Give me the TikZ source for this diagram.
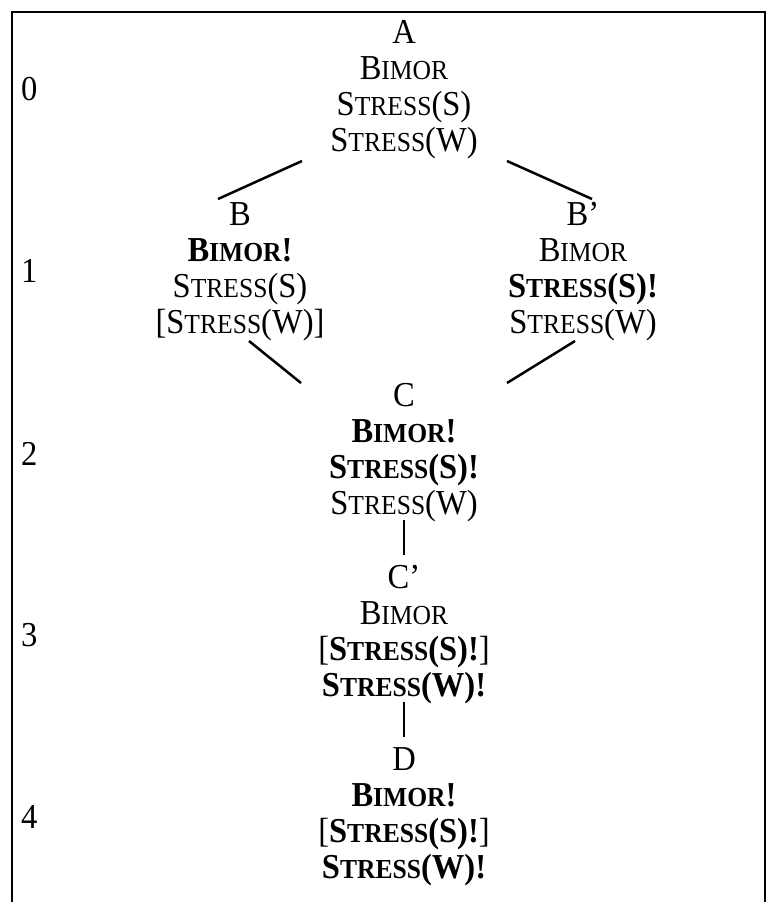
\documentclass[tikz,border=0pt]{standalone}
\usepackage{fontspec}
\setmainfont{Liberation Serif}
\newcommand\scx[2]{#1{\fontsize{27.5}{36}\selectfont #2}}
\begin{document}
\begin{tikzpicture}[x=1pt,y=-1pt,
  stack/.style={align=center,anchor=north,inner sep=0pt,transform shape,xscale=0.93,font=\fontsize{35}{36}\selectfont},
  rowlab/.style={anchor=base west,inner sep=0pt,transform shape,xscale=0.93,font=\fontsize{35}{36}\selectfont},
  edge/.style={line width=2.5pt},
  frame/.style={line width=2.4pt}]
\useasboundingbox (0,0) rectangle (767,902);
\draw[frame] (12,902) -- (12,12) -- (765,12) -- (765,902);
% row labels
\node[rowlab] (r0) at (21,100) {0};
\node[rowlab] (r1) at (21,282) {1};
\node[rowlab] (r2) at (21,465) {2};
\node[rowlab] (r3) at (21,646) {3};
\node[rowlab] (r4) at (21,828) {4};
% stacks
\node[stack] (A) at (404,20) {A\\ \scx{B}{IMOR}\\ \scx{S}{TRESS}(S)\\ \scx{S}{TRESS}(W)};
\node[stack] (B) at (240,202) {B\\ \textbf{\scx{B}{IMOR}!}\\ \scx{S}{TRESS}(S)\\ {[}\scx{S}{TRESS}(W)]};
\node[stack] (Bp) at (583,202) {B’\\ \scx{B}{IMOR}\\ \textbf{\scx{S}{TRESS}(S)!}\\ \scx{S}{TRESS}(W)};
\node[stack] (C) at (404,383) {C\\ \textbf{\scx{B}{IMOR}!}\\ \textbf{\scx{S}{TRESS}(S)!}\\ \scx{S}{TRESS}(W)};
\node[stack] (Cp) at (404,565) {C’\\ \scx{B}{IMOR}\\ {[}\textbf{\scx{S}{TRESS}(S)!}]\\ \textbf{\scx{S}{TRESS}(W)!}};
\node[stack] (D) at (404,747) {D\\ \textbf{\scx{B}{IMOR}!}\\ {[}\textbf{\scx{S}{TRESS}(S)!}]\\ \textbf{\scx{S}{TRESS}(W)!}};
% connector end points
\coordinate (ab1) at (302,161); \coordinate (ab2) at (218,199);
\coordinate (abp1) at (507,161); \coordinate (abp2) at (592,199);
\coordinate (bc1) at (249,341); \coordinate (bc2) at (301,383);
\coordinate (bpc1) at (575,341); \coordinate (bpc2) at (507,383);
\coordinate (cc1) at (404,520); \coordinate (cc2) at (404,555);
\coordinate (cd1) at (404,702); \coordinate (cd2) at (404,737);
\draw[edge] (ab1) -- (ab2);
\draw[edge] (abp1) -- (abp2);
\draw[edge] (bc1) -- (bc2);
\draw[edge] (bpc1) -- (bpc2);
\draw[edge] (cc1) -- (cc2);
\draw[edge] (cd1) -- (cd2);
\end{tikzpicture}
\end{document}
